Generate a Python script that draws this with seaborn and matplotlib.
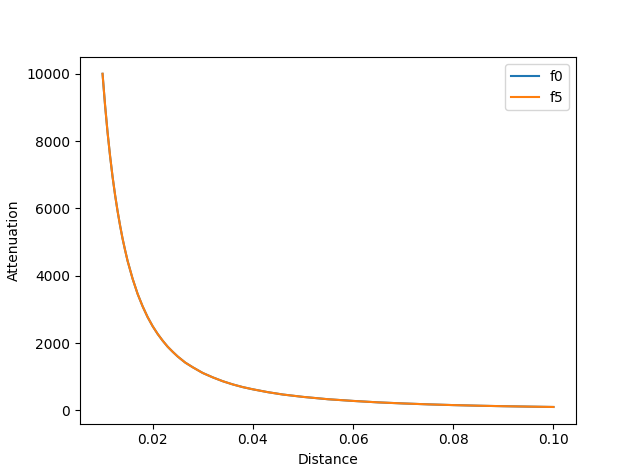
import seaborn as sns
import matplotlib.pyplot as plt
import pandas as pd

# values
distance = [0.0100, 0.0105, 0.0110, 0.0115, 0.0120, 0.0125, 0.0130, 0.0135, 0.0140,
            0.0145, 0.0150, 0.0160, 0.0170, 0.0180, 0.0190, 0.0200, 0.0210, 0.0220,
            0.0230, 0.0240, 0.0250, 0.0265, 0.0280, 0.0300, 0.0320, 0.0340, 0.0360,
            0.0380, 0.0400, 0.0430, 0.0460, 0.0500, 0.0550, 0.0600, 0.0650, 0.0700,
            0.0750, 0.0800, 0.0850, 0.0900, 0.0950, 0.1000]
f0 = [10000, 9070, 8260, 7560, 6940, 6400, 5920, 5490, 5100,
      4760, 4440, 3910, 3460, 3090, 2770, 2500, 2270, 2070,
      1890, 1740, 1600, 1420, 1280, 1110, 980, 865, 770,
      690, 625, 540, 470, 400, 330, 280, 237, 205,
      178, 156, 138, 123, 111, 100]
f5 = [10000, 9070, 8260, 7560, 6940, 6400, 5920, 5490, 5100,
      4760, 4440, 3910, 3460, 3090, 2770, 2500, 2270, 2070,
      1890, 1740, 1600, 1420, 1280, 1110, 980, 865, 770,
      690, 625, 540, 470, 400, 330, 280, 237, 205,
      178, 156, 138, 123, 111, 100]

dt = pd.DataFrame({'Distance': distance * 2,
                   'Attenuation': f0 + f5,
                   'series': ['f0'] * len(f0) + ['f5'] * len(f5)})

fig, ax = plt.subplots(figsize=(6.4, 4.76), dpi=100)
sns.lineplot(x='Distance', y='Attenuation', hue='series', data=dt, ax=ax,
             palette=['#1f77b4', '#ff7f0e'])
ax.legend(loc='upper right')
fig.savefig('out.png', dpi=100)
